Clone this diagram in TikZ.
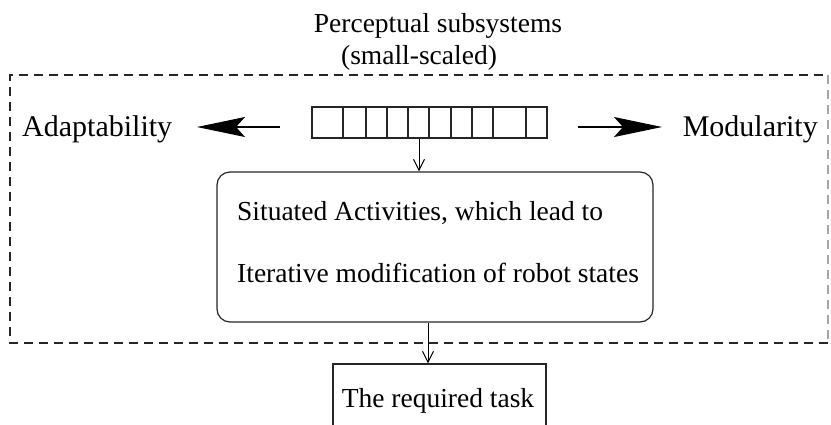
\documentclass[tikz,border=0pt]{standalone}
\usepackage{fontspec}
\setmainfont{Liberation Serif}
\usetikzlibrary{arrows.meta,calc}
\begin{document}
\begin{tikzpicture}[x=1pt,y=-1pt,
  txt/.style={inner sep=0pt,font=\fontsize{27.5}{30}\selectfont},
  side/.style={inner sep=0pt,font=\fontsize{30}{33}\selectfont},
  frame/.style={draw=black!85,line width=1.1pt,dash pattern=on 9pt off 6pt},
  box/.style={draw=black!85,line width=1.2pt,inner sep=0pt},
  bigarrow/.style={line width=1.1pt,-{Stealth[length=48pt,width=20pt,inset=9pt]}},
  smallarrow/.style={line width=1pt,-{Straight Barb[length=11pt,width=11pt,line width=1pt]}}]
\useasboundingbox (0,0) rectangle (831,424);
\clip (0,0) rectangle (831,424);
% title
\node[txt,anchor=base] (t1) at (438,32) {Perceptual subsystems};
\node[txt,anchor=base] (t2) at (419,64) {(small-scaled)};
% dashed frame
\coordinate (fa) at (10,75);
\coordinate (fb) at (828,343);
\draw[frame] (fb) -- (fa |- fb) -- (fa) -- (fa -| fb);
\draw[frame,draw=black!35] (fa -| fb) -- (fb);
% register
\node[box,minimum width=235pt,minimum height=31pt] (reg) at (429.5,122.5) {};
\foreach \x in {343,366,387,408,429,451,472,493,526}
  \draw[line width=1.2pt,black!85] (reg.north west -| \x,0) -- (reg.south west -| \x,0);
% side labels
\node[side,anchor=base west] (adapt) at (22,136) {Adaptability};
\node[side,anchor=base east] (modul) at (818,136) {Modularity};
\coordinate (la) at (280,127);
\coordinate (lt) at (197,127);
\coordinate (ra) at (578,127);
\coordinate (rt) at (662,127);
\draw[bigarrow] (la) -- (lt);
\draw[bigarrow] (ra) -- (rt);
% activity box
\node[box,rounded corners=13pt,minimum width=436pt,minimum height=150pt] (act) at (435,247) {};
\node[txt,anchor=base west] (s1) at (237,220) {Situated Activities, which lead to};
\node[txt,anchor=base west] (s2) at (237,282) {Iterative modification of robot states};
% task box
\node[box,minimum width=213pt,minimum height=90pt] (task) at (439.5,409) {};
\node[txt,anchor=base] (tt) at (438,407) {The required task};
% arrows
\coordinate (x1) at (419,0);
\coordinate (x2) at (428,0);
\draw[smallarrow] (reg.south -| x1) -- (act.north -| x1);
\draw[smallarrow] (act.south -| x2) -- (task.north -| x2);
\end{tikzpicture}
\end{document}
